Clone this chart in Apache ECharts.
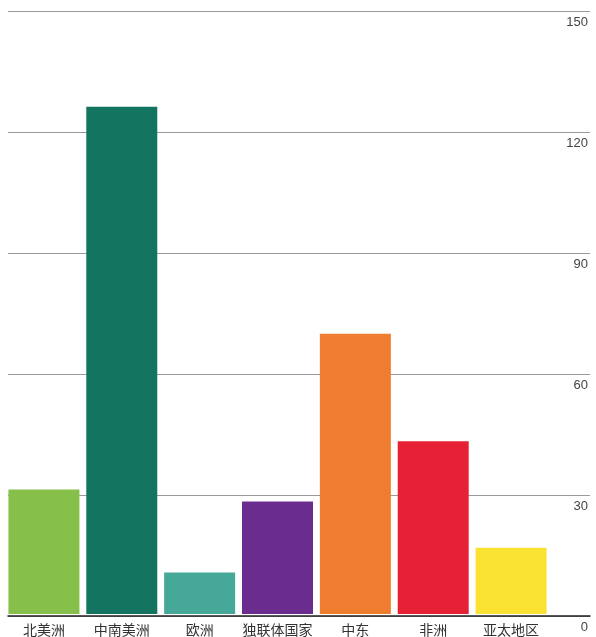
<!DOCTYPE html>
<html><head><meta charset="utf-8">
<script src="https://cdn.jsdelivr.net/npm/echarts@6/dist/echarts.min.js"></script>
<style>html,body{margin:0;padding:0;background:#fff}#c{width:596px;height:637px}</style>
</head><body><div id="c"></div>
<script>
const categories = ['北美洲','中南美洲','欧洲','独联体国家','中东','非洲','亚太地区'];
const values = [31.0, 126.2, 10.3, 28.0, 69.7, 43.0, 16.5];
const barColors = ['#86bf4a','#137560','#45a899','#6a2d8f','#f07c30','#e62035','#f9e232'];
const yTicks = [0, 30, 60, 90, 120, 150];

const chart = echarts.init(document.getElementById('c'));
chart.setOption({
  animation: false,
  backgroundColor: '#fff',
  grid: [
    {left: 8, right: 6, top: 11, bottom: 21},
    {left: 5, width: 545, top: 11, bottom: 21}
  ],
  xAxis: [
    {gridIndex: 0, type: 'value', min: 0, max: 1, show: true,
     axisLine: {show: true, onZero: false, lineStyle: {color: '#222', width: 1.5}},
     axisTick: {show: false}, axisLabel: {show: false}, splitLine: {show: false}},
    {gridIndex: 1, type: 'category', data: categories,
     axisLine: {show: false}, axisTick: {show: false},
     axisLabel: {interval: 0, margin: 9, fontSize: 14, color: '#333', fontFamily: 'Noto Sans CJK SC'}}
  ],
  yAxis: [
    {gridIndex: 0, type: 'value', position: 'right', min: yTicks[0], max: yTicks[yTicks.length-1], interval: 30,
     axisLine: {show: false}, axisTick: {show: false},
     axisLabel: {inside: true, margin: 2, align: 'right', verticalAlign: 'top', padding: [5,0,0,0],
       fontSize: 13, color: '#444', fontFamily: 'Liberation Sans'},
     splitLine: {show: true, lineStyle: {color: '#9a9a9a', width: 1}}},
    {gridIndex: 1, type: 'value', min: 0, max: 150, show: false}
  ],
  series: [{
    type: 'bar', xAxisIndex: 1, yAxisIndex: 1,
    data: values.map((v, i) => ({value: v, itemStyle: {color: barColors[i]}})),
    barWidth: 71
  }]
});
</script></body></html>
